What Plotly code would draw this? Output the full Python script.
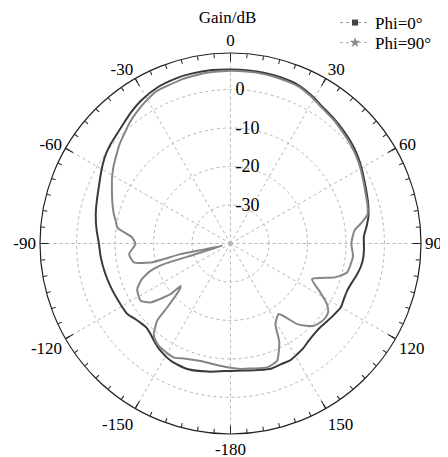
import plotly.graph_objects as go

# ---- data (angle in degrees, gain in dB) ----
theta_phi0 = [-180, -170, -161, -153, -147, -142, -138.6, -135, -132, -129, -124, -118, -110,
              -103, -96, -90, -84, -78, -72, -67, -62, -58, -54, -50, -46, -42, -37, -32, -25,
              -18, -13, -6, 0, 6, 11, 17, 23, 29, 34, 40, 45, 50, 55, 60, 65, 70, 75, 79, 83,
              87, 92, 96, 100, 104, 108, 112, 116, 120, 124, 129, 133, 137, 141, 145, 149, 153,
              157.5, 162, 168, 174, 180]
gain_phi0 = [-6.9, -6.2, -5.5, -5.8, -6.7, -7.8, -8.6, -9.1, -8.9, -8.5, -7.5, -7.3, -6.9,
             -6.5, -6.1, -5.8, -5.0, -4.2, -3.5, -2.8, -1.8, -0.9, -0.1, 0.5, 1.0, 1.7, 2.8, 3.8, 4.8,
             5.2, 5.3, 5.3, 5.2, 5.2, 5.2, 5.1, 4.8, 3.8, 2.8, 2.1, 1.5, 0.9, 0.2, -0.7, -1.6, -2.3,
             -2.9, -3.5, -4.4, -5.3, -5.3, -5.3, -5.6, -6.2, -6.9, -7.3, -7.2, -6.9, -7.3, -7.8,
             -8.1, -8.0, -7.6, -6.9, -6.4, -5.9, -6.0, -5.8, -6.4, -6.8, -6.9]

theta_phi90 = [-180, -175.3, -165.7, -158, -153.6, -146, -142.4, -139.8, -136.5, -135.3, -132.5,
               -130.5, -130.2, -126.4, -122.5, -116.1, -112, -108.9, -107.2, -107, -105.5,
               -102.5, -102, -103.4, -101, -96, -90.4, -86.5, -82, -78.8, -75.9, -70, -65, -61,
               -57, -53, -48.5, -44, -39.5, -35, -30, -26, -16, -8, 0, 8, 15, 23, 29, 34, 40, 45,
               50, 55, 60, 65, 70, 74, 78, 81, 84, 90, 96, 104, 108, 113.6, 118.6, 122.1, 125,
               127.9, 131, 134.7, 137.5, 140.4, 145.6, 150.9, 153.6, 158.3, 163.5, 170.8, 175.5, 180]
gain_phi90 = [-7.7, -8.1, -8.5, -7.8, -6.9, -7.4, -8.1, -9.1, -12.3, -16.6, -21.8,
              -23.0, -19.6, -14.2, -12.3, -13.0, -15.1, -18.0, -21.9, -29.8, -37.8,
              -32.2, -26.7, -18.6, -14.4, -13.5, -15.3, -14.4, -10.3, -9.6, -8.75, -7.3, -6.0, -4.8,
              -3.7, -2.7, -1.4, -0.3, 1.0, 2.1, 3.2, 4.0, 4.5, 4.8, 4.9, 4.9, 4.8, 4.5, 3.5, 2.5, 1.8, 1.1,
              0.5, -0.2, -1.0, -1.9, -2.6, -3.0, -3.6, -5.5, -7.6, -8.6, -8.0, -8.8, -11.5, -16.9, -13.4,
              -10.4, -9.0, -8.7, -8.9, -9.6, -11.0, -12.8, -17.8, -16.0, -11.5, -7.2, -6.4, -7.1, -7.3, -7.7]

major_ticks = [0, 30, 60, 90, 120, 150, 180, 210, 240, 270, 300, 330]
major_labels = ["0", "30", "60", "90", "120", "150", "-180", "-150", "-120", "-90", "-60", "-30"]
minor_ticks = list(range(0, 360, 5))
radial_ticks = [-30, -20, -10, 0]
radial_labels = ["-30", "-20", "-10", "0"]
radial_range = [-40, 9.5]

series_names = ["Phi=0°", "Phi=90°"]
title_text = "Gain/dB"

FONT = "Liberation Serif"
FS = 18
ANG_FS = 17
NB = "\u00a0"

fig = go.Figure()

fig.add_trace(go.Scatterpolar(r=gain_phi0, theta=theta_phi0, mode="lines",
                              line=dict(color="#3a3a3a", width=2, shape="spline", smoothing=0.6),
                              showlegend=False, subplot="polar"))
fig.add_trace(go.Scatterpolar(r=gain_phi90, theta=theta_phi90, mode="lines",
                              line=dict(color="#858585", width=2, shape="spline", smoothing=0.5),
                              showlegend=False, subplot="polar"))
# legend entries
fig.add_trace(go.Scatterpolar(r=[None], theta=[None], mode="lines+markers", name=series_names[0],
                              line=dict(color="#9a9a9a", width=1, dash="dot"),
                              marker=dict(symbol="square", size=6, color="#444444"),
                              subplot="polar", legend="legend"))
fig.add_trace(go.Scatterpolar(r=[None], theta=[None], mode="lines+markers", name=series_names[1],
                              line=dict(color="#b0b0b0", width=1, dash="dot"),
                              marker=dict(symbol="star", size=8, color="#8a8a8a"),
                              subplot="polar", legend="legend2"))
# dummies for the tick-only subplots
for sp in ("polar2", "polar3"):
    fig.add_trace(go.Scatterpolar(r=[None], theta=[None], mode="lines", showlegend=False,
                                  subplot=sp))

grid_col = "#b5b5b5"
dom = dict(x=[0, 1], y=[0, 1])

W, H = 440, 449
L, T, PLOT = 32, 45, 381


def py(fig_y):
    return (T + PLOT - fig_y) / PLOT


def px(fig_x):
    return (fig_x - L) / PLOT


def tick_polar(vals, length):
    return dict(
        domain=dom,
        bgcolor="rgba(0,0,0,0)",
        angularaxis=dict(rotation=90, direction="clockwise", tickmode="array",
                         tickvals=vals, ticktext=[""] * len(vals),
                         ticks="inside", ticklen=length, tickcolor="#222", tickwidth=1,
                         showline=False, showgrid=False, showticklabels=False),
        radialaxis=dict(visible=False, range=radial_range),
    )


LEG_FS = 17

fig.update_layout(
    width=W, height=H,
    margin=dict(l=L, r=W - L - PLOT, t=T, b=H - T - PLOT, autoexpand=False),
    paper_bgcolor="white",
    font=dict(family=FONT, size=FS, color="black"),
    title=dict(text=title_text, x=px(219.5), xref="paper", y=1 - 9.5 / H, yref="container",
               xanchor="center", yanchor="middle", font=dict(family=FONT, size=17)),
    polar=dict(
        domain=dom,
        bgcolor="white",
        angularaxis=dict(rotation=90, direction="clockwise", tickmode="array",
                         tickvals=major_ticks, ticktext=major_labels,
                         ticks="",
                         showline=True, linecolor="#222", linewidth=1.2,
                         showgrid=True, gridcolor=grid_col, griddash="dot", gridwidth=1,
                         tickfont=dict(family=FONT, size=ANG_FS, color="black")),
        radialaxis=dict(range=radial_range, angle=90, side="clockwise", tickmode="array",
                        tickvals=radial_ticks, ticktext=[NB + t for t in radial_labels], ticks="",
                        showline=False, showgrid=True, gridcolor=grid_col, griddash="dot",
                        tickangle=90,
                        tickfont=dict(family=FONT, size=FS, color="black")),
    ),
    polar2=tick_polar(minor_ticks, 4),
    polar3=tick_polar(major_ticks, 8),
    legend=dict(x=px(327), y=py(15), xanchor="left", yanchor="middle",
                bgcolor="rgba(0,0,0,0)", font=dict(family=FONT, size=LEG_FS), itemwidth=30),
    legend2=dict(x=px(327), y=py(35), xanchor="left", yanchor="middle",
                 bgcolor="rgba(0,0,0,0)", font=dict(family=FONT, size=LEG_FS), itemwidth=30),
)

fig.write_html("out.html")
